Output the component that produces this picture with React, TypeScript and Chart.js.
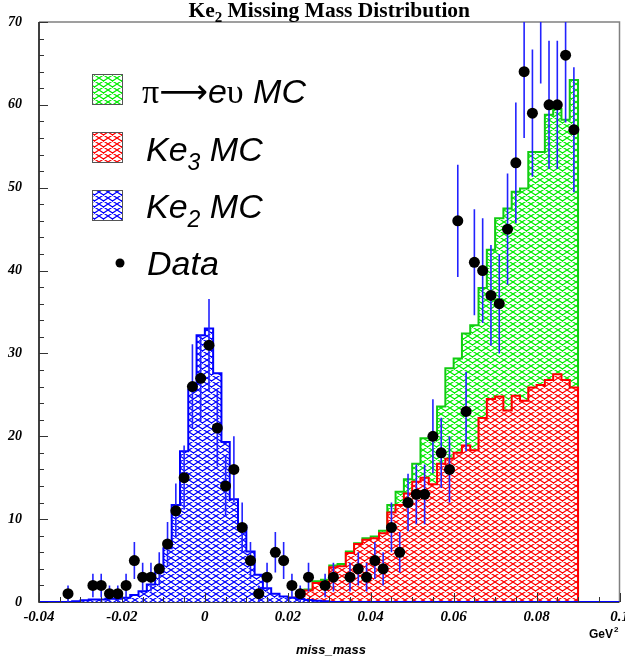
import { useEffect, useRef } from 'react';
import { Chart, registerables } from 'chart.js';

Chart.register(...registerables);

// ---- data ----
const binCenters = [
  -0.039, -0.037, -0.035, -0.033, -0.031, -0.029, -0.027, -0.025, -0.023, -0.021,
  -0.019, -0.017, -0.015, -0.013, -0.011, -0.009, -0.007, -0.005, -0.003, -0.001,
  0.001, 0.003, 0.005, 0.007, 0.009, 0.011, 0.013, 0.015, 0.017, 0.019,
  0.021, 0.023, 0.025, 0.027, 0.029, 0.031, 0.033, 0.035, 0.037, 0.039,
  0.041, 0.043, 0.045, 0.047, 0.049, 0.051, 0.053, 0.055, 0.057, 0.059,
  0.061, 0.063, 0.065, 0.067, 0.069, 0.071, 0.073, 0.075, 0.077, 0.079,
  0.081, 0.083, 0.085, 0.087, 0.089, 0.091, 0.093, 0.095, 0.097, 0.099,
];
const binWidth = 0.002;

const dataCounts = [
  0, 0, 0, 1, 0, 0, 2, 2, 1, 1,
  2, 5, 3, 3, 4, 7, 11, 15, 26, 27,
  31, 21, 14, 16, 9, 5, 1, 3, 6, 5,
  2, 1, 3, 0, 2, 3, 0, 3, 4, 3,
  5, 4, 9, 6, 12, 13, 13, 20, 18, 16,
  46, 23, 41, 40, 37, 36, 45, 53, 64, 59,
  71, 60, 60, 66, 57, 0, 0, 0, 0, 0,
];

const ke2MC = [
  0, 0, 0, 0, 0.1, 0.2, 0.3, 0.3, 0.4, 0.4,
  0.5, 0.85, 1.3, 2.1, 3.6, 6.5, 11.7, 18.2, 25.6, 32.2,
  33.0, 27.6, 19.3, 12.4, 9.2, 6.1, 3.3, 1.65, 1.0, 0.65,
  0.5, 0.35, 0.25, 0.15, 0.1, 0, 0, 0, 0, 0,
  0, 0, 0, 0, 0, 0, 0, 0, 0, 0,
  0, 0, 0, 0, 0, 0, 0, 0, 0, 0,
  0, 0, 0, 0, 0, 0, 0, 0, 0, 0,
];

const ke3MC = [
  0, 0, 0, 0, 0, 0, 0, 0, 0, 0,
  0.1, 0.1, 0.1, 0.1, 0.1, 0.1, 0.1, 0.1, 0.1, 0.1,
  0.1, 0.1, 0.15, 0.2, 0.3, 0.3, 0.4, 0.5, 0.6, 0.55,
  0.5, 0.7, 1.4, 2.3, 2.4, 4.2, 4.3, 5.9, 7.0, 7.5,
  7.7, 8.3, 10.8, 11.7, 13.1, 14.5, 15.0, 14.2, 16.7, 17.3,
  18.0, 18.9, 18.3, 22.2, 24.5, 24.8, 23.1, 24.9, 24.3, 25.9,
  26.2, 26.8, 27.5, 26.8, 25.9, 0, 0, 0, 0, 0,
];

const pienuMC = [
  0, 0, 0, 0, 0, 0, 0, 0, 0, 0,
  0.1, 0.1, 0.1, 0.1, 0.1, 0.1, 0.1, 0.1, 0.1, 0.1,
  0.1, 0.1, 0.15, 0.2, 0.3, 0.3, 0.4, 0.5, 0.6, 0.55,
  0.5, 0.8, 1.5, 2.5, 2.7, 4.4, 4.6, 6.1, 7.1, 7.7,
  7.9, 8.6, 11.7, 13.3, 14.8, 16.7, 19.75, 19.75, 23.6, 28.2,
  29.4, 32.4, 33.4, 37.9, 42.5, 46.3, 47.5, 49.5, 49.9, 54.3,
  54.3, 58.8, 59.5, 58.2, 63.0, 0, 0, 0, 0, 0,
];

const xTickLabels = ['-0.04', '-0.02', '0', '0.02', '0.04', '0.06', '0.08', '0.1'];
const yTickLabels = ['0', '10', '20', '30', '40', '50', '60', '70'];
const seriesLabels = ['Data', 'Ke2 MC', 'Ke3 MC', 'π→eυ MC'];
const titleParts = ['Ke', '2', ' Missing Mass Distribution'];
const xAxisTitle = 'miss_mass';
const xUnitParts = ['GeV', '2'];
const legendText: [string, string][][] = [
  [['π', 'sym'], ['⟶', 'arrow'], ['e', 'it'], ['υ', 'sym'], [' MC', 'it']],
  [['Ke', 'it'], ['3', 'sub'], [' MC', 'it']],
  [['Ke', 'it'], ['2', 'sub'], [' MC', 'it']],
  [['Data', 'it']],
];

// ---- helpers ----
const COLORS = { green: '#00ee00', red: '#ff0000', blue: '#0000ff' };
const DATA_INDEX = 0;
const TILE_W = 9;
const TILE_H = 6;

function histPoints(values: number[]) {
  const pts: { x: number; y: number }[] = [];
  values.forEach((v, i) => {
    pts.push({ x: binCenters[i] - binWidth / 2, y: v });
    pts.push({ x: binCenters[i] + binWidth / 2, y: v });
  });
  return pts;
}

function hatch(color: string): CanvasPattern {
  const c = document.createElement('canvas');
  c.width = TILE_W;
  c.height = TILE_H;
  const g = c.getContext('2d')!;
  g.fillStyle = '#ffffff';
  g.fillRect(0, 0, TILE_W, TILE_H);
  g.strokeStyle = color;
  g.lineWidth = 1.2;
  g.beginPath();
  for (const dx of [-TILE_W, 0, TILE_W]) {
    g.moveTo(dx, 0);
    g.lineTo(dx + TILE_W, TILE_H);
    g.moveTo(dx, TILE_H);
    g.lineTo(dx + TILE_W, 0);
  }
  g.stroke();
  return g.createPattern(c, 'repeat')!;
}

function drawSegments(ctx: CanvasRenderingContext2D, segs: [string, string][], x: number, y: number) {
  let cx = x;
  for (const [t, kind] of segs) {
    let font = 'italic 34px "Liberation Sans"';
    let dy = 0;
    if (kind === 'sym') font = '34px "Liberation Serif"';
    if (kind === 'arrow') font = '34px "DejaVu Sans"';
    if (kind === 'sub') { font = 'italic 23px "Liberation Sans"'; dy = 9; }
    ctx.font = font;
    ctx.fillText(t, cx, y + dy);
    cx += ctx.measureText(t).width;
  }
}

export default function App() {
  const ref = useRef<HTMLCanvasElement>(null);

  useEffect(() => {
    const canvas = ref.current!;
    const greenHatch = hatch(COLORS.green);
    const redHatch = hatch(COLORS.red);
    const blueHatch = hatch(COLORS.blue);

    const decor = {
      id: 'decor',
      beforeDatasetsDraw(chart: any) {
        const { ctx, chartArea: a } = chart;
        ctx.save();
        ctx.strokeStyle = '#808080';
        ctx.lineWidth = 1.5;
        ctx.beginPath();
        ctx.moveTo(a.left, a.top);
        ctx.lineTo(a.right, a.top);
        ctx.lineTo(a.right, a.bottom);
        ctx.stroke();
        ctx.strokeStyle = '#000000';
        ctx.beginPath();
        ctx.moveTo(a.left, a.top);
        ctx.lineTo(a.left, a.bottom);
        ctx.lineTo(a.right, a.bottom);
        ctx.stroke();
        ctx.restore();
      },
      beforeDatasetDraw(chart: any, args: any) {
        if (args.index !== DATA_INDEX) return;
        const { ctx, chartArea: a, scales } = chart;
        const xs = scales.x;
        const ys = scales.y;
        ctx.save();
        // inner tick marks
        ctx.strokeStyle = '#333333';
        ctx.lineWidth = 1;
        ctx.beginPath();
        for (let k = 0; k <= 28; k++) {
          const v = -0.04 + k * 0.005;
          const px = Math.round(xs.getPixelForValue(v)) + 0.5;
          const len = k % 4 === 0 ? 9 : 5;
          ctx.moveTo(px, a.bottom);
          ctx.lineTo(px, a.bottom - len);
        }
        for (let k = 0; k <= 35; k++) {
          const py = Math.round(ys.getPixelForValue(k * 2)) + 0.5;
          const len = k % 5 === 0 ? 9 : 5;
          ctx.moveTo(a.left, py);
          ctx.lineTo(a.left + len, py);
        }
        ctx.stroke();
        // error bars (clipped to frame)
        ctx.beginPath();
        ctx.rect(a.left, a.top, a.right - a.left, a.bottom - a.top);
        ctx.clip();
        ctx.strokeStyle = '#2222ff';
        ctx.lineWidth = 1.6;
        dataCounts.forEach((n, i) => {
          if (n <= 0) return;
          const err = Math.sqrt(n);
          const px = xs.getPixelForValue(binCenters[i]);
          ctx.beginPath();
          ctx.moveTo(px, ys.getPixelForValue(n - err));
          ctx.lineTo(px, ys.getPixelForValue(n + err));
          ctx.stroke();
        });
        ctx.restore();
      },
      afterDraw(chart: any) {
        const { ctx, chartArea: a } = chart;
        ctx.save();
        ctx.fillStyle = '#000000';
        ctx.textBaseline = 'alphabetic';
        ctx.textAlign = 'left';
        // title
        const fMain = 'bold 21.5px "Liberation Serif"';
        const fSub = 'bold 15px "Liberation Serif"';
        ctx.font = fMain;
        const w1 = ctx.measureText(titleParts[0]).width;
        const w3 = ctx.measureText(titleParts[2]).width;
        ctx.font = fSub;
        const w2 = ctx.measureText(titleParts[1]).width;
        let tx = (a.left + a.right) / 2 - (w1 + w2 + w3) / 2;
        const ty = 17;
        ctx.font = fMain;
        ctx.fillText(titleParts[0], tx, ty);
        tx += w1;
        ctx.font = fSub;
        ctx.fillText(titleParts[1], tx, ty + 5);
        tx += w2;
        ctx.font = fMain;
        ctx.fillText(titleParts[2], tx, ty);

        // axis titles
        ctx.font = 'italic bold 13px "Liberation Sans"';
        ctx.textAlign = 'center';
        ctx.fillText(xAxisTitle, 331, 654);
        ctx.textAlign = 'left';
        ctx.font = 'bold 12px "Liberation Sans"';
        const gx = 589;
        ctx.fillText(xUnitParts[0], gx, 638);
        const gw = ctx.measureText(xUnitParts[0]).width;
        ctx.font = 'bold 8px "Liberation Sans"';
        ctx.fillText(xUnitParts[1], gx + gw + 1, 632);

        // legend
        const boxes = [greenHatch, redHatch, blueHatch];
        const boxY = [74, 132, 190];
        const textY = [103, 161, 218];
        const textX = [142, 146, 146];
        boxes.forEach((p, i) => {
          ctx.fillStyle = p;
          ctx.fillRect(92, boxY[i], 30, 30);
          ctx.strokeStyle = '#555555';
          ctx.lineWidth = 1;
          ctx.strokeRect(92.5, boxY[i] + 0.5, 30, 30);
          ctx.fillStyle = '#000000';
          drawSegments(ctx, legendText[i], textX[i], textY[i]);
        });
        ctx.beginPath();
        ctx.arc(120, 263, 4.5, 0, Math.PI * 2);
        ctx.fillStyle = '#000000';
        ctx.fill();
        drawSegments(ctx, legendText[3], 147, 275);
        ctx.restore();
      },
    };

    const chart = new Chart(canvas, {
      type: 'line',
      data: {
        datasets: [
          {
            label: seriesLabels[0],
            data: binCenters
              .map((c, i) => ({ x: c, y: dataCounts[i] }))
              .filter((p) => p.y > 0),
            showLine: false,
            pointRadius: 5.5,
            pointBackgroundColor: '#000000',
            pointBorderColor: '#000000',
            pointBorderWidth: 0,
            order: 0,
            clip: 0,
          } as any,
          {
            label: seriesLabels[1],
            data: histPoints(ke2MC),
            borderColor: COLORS.blue,
            backgroundColor: blueHatch,
            borderWidth: 2,
            fill: 'origin',
            pointRadius: 0,
            tension: 0,
            order: 1,
          },
          {
            label: seriesLabels[2],
            data: histPoints(ke3MC),
            borderColor: COLORS.red,
            backgroundColor: redHatch,
            borderWidth: 2,
            fill: 'origin',
            pointRadius: 0,
            tension: 0,
            order: 2,
          },
          {
            label: seriesLabels[3],
            data: histPoints(pienuMC),
            borderColor: '#11cc11',
            backgroundColor: greenHatch,
            borderWidth: 2,
            fill: 'origin',
            pointRadius: 0,
            tension: 0,
            order: 3,
          },
        ],
      },
      options: {
        responsive: false,
        animation: false,
        devicePixelRatio: 1,
        events: [],
        layout: { padding: { top: 22, right: 5, left: 0, bottom: 0 } },
        plugins: {
          legend: { display: false },
          title: { display: false },
          tooltip: { enabled: false },
        },
        scales: {
          x: {
            type: 'linear',
            min: -0.04,
            max: 0.1,
            afterFit: (s: any) => {
              s.height = 56;
              s.paddingLeft = 0;
              s.paddingRight = 0;
            },
            grid: { display: false, drawTicks: false },
            border: { display: false },
            ticks: {
              stepSize: 0.02,
              autoSkip: false,
              maxRotation: 0,
              padding: 6,
              color: '#000000',
              font: { family: 'Liberation Serif', size: 15, style: 'italic', weight: 'bold' },
              callback: (v: any) => {
                const l = xTickLabels.find((t) => Math.abs(parseFloat(t) - Number(v)) < 1e-9);
                return l ?? '';
              },
            },
          },
          y: {
            type: 'linear',
            min: 0,
            max: 70,
            afterFit: (s: any) => {
              s.width = 39;
              s.paddingTop = 0;
              s.paddingBottom = 0;
            },
            grid: { display: false, drawTicks: false },
            border: { display: false },
            ticks: {
              stepSize: 10,
              padding: 17,
              color: '#000000',
              font: { family: 'Liberation Serif', size: 14, style: 'italic', weight: 'bold' },
              callback: (v: any) => {
                const l = yTickLabels.find((t) => Math.abs(parseFloat(t) - Number(v)) < 1e-9);
                return l ?? '';
              },
            },
          },
        },
      },
      plugins: [decor],
    } as any);

    return () => chart.destroy();
  }, []);

  return (
    <div style={{ position: 'fixed', left: 0, top: 0, width: 625, height: 658, background: '#ffffff' }}>
      <canvas ref={ref} width={625} height={658} style={{ display: 'block' }} />
    </div>
  );
}
